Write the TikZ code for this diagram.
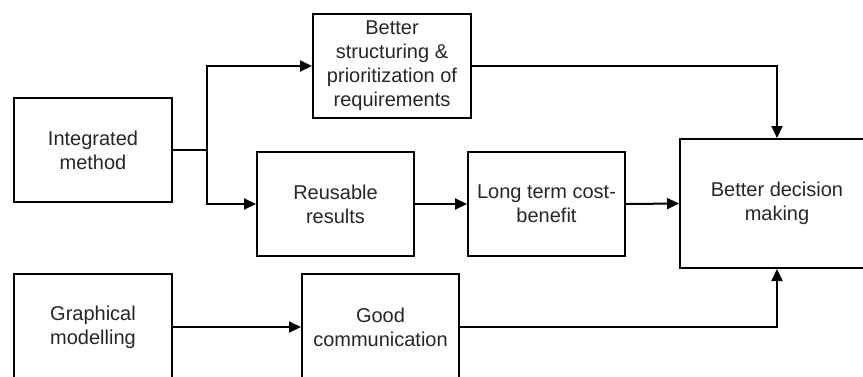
\documentclass[tikz,border=0pt]{standalone}
\usepackage{fontspec}
\setmainfont{Liberation Sans}
\usetikzlibrary{arrows.meta}
\begin{document}
\begin{tikzpicture}[x=1pt,y=-1pt,
  box/.style={draw=black,line width=2pt,rectangle,align=center,inner sep=0pt,
    font=\fontsize{20}{24}\selectfont,text=black!85},
  arr/.style={line width=2pt,-{Triangle[length=12pt,width=11pt]}},
  ln/.style={line width=2pt}]
\useasboundingbox (0,0) rectangle (863,376);
\clip (0,0) rectangle (863,376);
\node[box,minimum width=158pt,minimum height=104pt] (im) at (93,150) {Integrated\\method};
\node[box,minimum width=158pt,minimum height=104pt] (bs) at (392,66) {Better\\structuring \&\\prioritization of\\requirements};
\node[box,minimum width=157pt,minimum height=104pt] (rr) at (335.5,204) {Reusable\\results};
\node[box,minimum width=157pt,minimum height=104pt] (lt) at (546.5,204) {Long term cost-\\benefit};
\node[box,minimum width=194pt,minimum height=129pt] (bd) at (777,203.5) {Better decision\\making};
\node[box,minimum width=158pt,minimum height=106pt] (gm) at (93,327) {Graphical\\modelling};
\node[box,minimum width=157pt,minimum height=106pt] (gc) at (380.5,327) {Good\\communication};
\coordinate (j) at (207,150);
\draw[ln] (im.east) -- (j);
\draw[arr] (j) |- (bs.west);
\draw[arr] (j) |- (rr.west);
\draw[arr] (rr.east) -- (lt.west);
\draw[arr] (lt.east) -- (bd.west);
\draw[arr] (bs.east) -| (bd.north);
\draw[arr] (gm.east) -- (gc.west);
\draw[arr] (gc.east) -| (bd.south);
\end{tikzpicture}
\end{document}
